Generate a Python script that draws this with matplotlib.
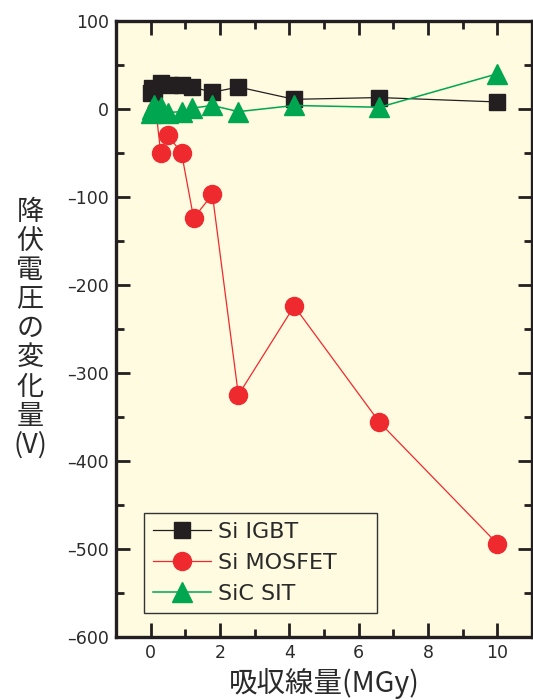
import matplotlib
matplotlib.use("Agg")
import matplotlib.pyplot as plt
from matplotlib.ticker import MultipleLocator, FuncFormatter

# Data
igbt_x = [0, 0.05, 0.1, 0.29, 0.57, 0.89, 1.2, 1.78, 2.53, 4.14, 6.6, 10]
igbt_y = [18, 24, 22, 29, 27, 27, 25, 19, 25, 11, 13, 8]
mos_x = [0.15, 0.29, 0.5, 0.89, 1.24, 1.78, 2.53, 4.14, 6.6, 10]
mos_y = [-1, -50, -30, -50, -124, -97, -325, -224, -356, -494]
sit_x = [0, 0.05, 0.1, 0.29, 0.5, 0.89, 1.2, 1.78, 2.53, 4.14, 6.6, 10]
sit_y = [-5, 0, 5, 2, -4, -3, 1, 4, -3, 4, 2, 40]
labels = ["Si IGBT", "Si MOSFET", "SiC SIT"]
xlabel = "吸収線量(MGy)"
ylabel_chars = ["降", "伏", "電", "圧", "の", "変", "化", "量", "(V)"]

bg = "#FEFBE0"
c_black = "#231F20"
c_red = "#EE2A2F"
c_green = "#00A650"
c_text = "#2a2a2a"

fig = plt.figure(figsize=(5.33, 7.0), dpi=100)
ax = fig.add_axes([116/533, 1 - 637/700, (532-116)/533, (637-21)/700])
ax.set_facecolor(bg)

ax.plot(igbt_x, igbt_y, color=c_black, lw=0.9, marker="s", ms=11.5,
        mfc=c_black, mec=c_black, label=labels[0], zorder=3)
ax.plot(mos_x, mos_y, color=c_red, lw=0.9, marker="o", ms=13,
        mfc=c_red, mec=c_red, label=labels[1], zorder=4)
ax.plot(sit_x, sit_y, color=c_green, lw=1.1, marker="^", ms=14,
        mfc=c_green, mec=c_green, label=labels[2], zorder=5)

ax.set_xlim(-1, 11)
ax.set_ylim(-600, 100)
ax.xaxis.set_major_locator(MultipleLocator(2))
ax.xaxis.set_minor_locator(MultipleLocator(1))
ax.yaxis.set_major_locator(MultipleLocator(100))
ax.yaxis.set_minor_locator(MultipleLocator(50))
fmt = FuncFormatter(lambda v, p: ("\u2013%d" % abs(v)) if v < 0 else "%d" % v)
ax.xaxis.set_major_formatter(fmt)
ax.yaxis.set_major_formatter(fmt)
ax.tick_params(which="both", direction="in", top=True, right=True,
               color=c_black, width=2)
ax.tick_params(which="major", length=10, labelsize=12.5, pad=5)
ax.tick_params(which="minor", length=5.5)
for s in ax.spines.values():
    s.set_linewidth(2.4)
    s.set_color(c_black)

for lab in ax.get_xticklabels() + ax.get_yticklabels():
    lab.set_family("DejaVu Sans")
    lab.set_color(c_text)

x0 = (144 - 116) / 416
y0 = (637 - 613) / 616
w = (377 - 144) / 416
h = (613 - 510) / 616
leg = ax.legend(loc="lower left", bbox_to_anchor=(x0, y0, w, h), mode="expand",
                borderaxespad=0, fancybox=False, numpoints=1,
                handlelength=2.6, handletextpad=0.35, labelspacing=0.5,
                borderpad=0.4, prop={"family": "DejaVu Sans", "size": 16},
                facecolor=bg, edgecolor="#333333", framealpha=1)
leg.get_frame().set_linewidth(1.0)
for t in leg.get_texts():
    t.set_color(c_text)

fig.text(30/533, 1 - 329/700, "\n".join(ylabel_chars), ha="center", va="center",
         fontsize=19.5, family=["Noto Sans CJK JP", "DejaVu Sans"],
         linespacing=1.1, color=c_text)
fig.text(324/533, 1 - 683/700, xlabel, ha="center", va="center",
         fontsize=20.5, family=["Noto Sans CJK JP", "DejaVu Sans"], color=c_text)

fig.savefig("out.png", dpi=100)
